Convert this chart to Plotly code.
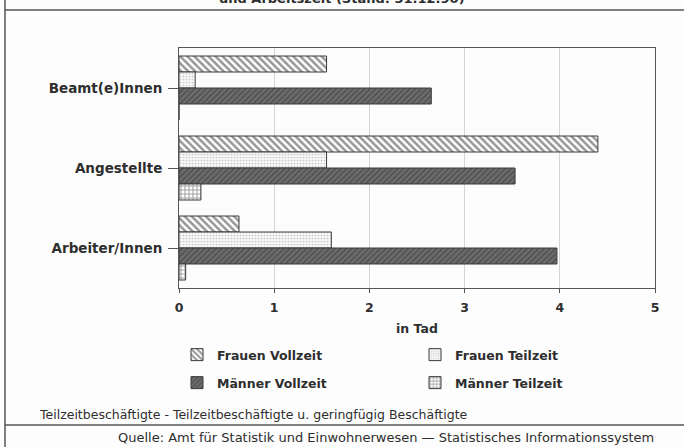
import plotly.graph_objects as go

# Employees by status, sex and working time (thousands)
categories = ["Beamt(e)Innen", "Angestellte", "Arbeiter/Innen"]
frauen_vollzeit = [1.55, 4.40, 0.63]
frauen_teilzeit = [0.17, 1.55, 1.60]
maenner_vollzeit = [2.65, 3.53, 3.97]
maenner_teilzeit = [0.0, 0.23, 0.07]
x_ticks = [0, 1, 2, 3, 4, 5]

W, H = 684, 447
L, R, T, B = 179, 655, 48, 288  # plot area in pixels
INK = "#2e2e2e"
FONT = "DejaVu Sans"


def px_x(p):
    return (p - L) / (R - L)


def px_y(p):
    return (B - p) / (B - T)


series = [
    ("Frauen Vollzeit", frauen_vollzeit,
     dict(shape="\\", fgcolor="#2e2e2e", bgcolor="#ffffff", size=5, solidity=0.5)),
    ("Frauen Teilzeit", frauen_teilzeit,
     dict(shape=".", fgcolor="#9a9a9a", bgcolor="#f6f6f6", size=3, solidity=0.25)),
    ("Männer Vollzeit", maenner_vollzeit,
     dict(shape="/", fgcolor="#333333", bgcolor="#6e6e6e", size=4, solidity=0.45)),
    ("Männer Teilzeit", maenner_teilzeit,
     dict(shape="+", fgcolor="#2e2e2e", bgcolor="#ffffff", size=4, solidity=0.4)),
]

fig = go.Figure()
for i, (name, vals, pat) in enumerate(series):
    fig.add_trace(go.Bar(
        name=name, x=vals, y=categories, orientation="h",
        marker=dict(color="#ffffff", pattern=pat,
                    line=dict(color="#3a3a3a", width=1)),
        legend="legend" if i < 2 else "legend2",
        hoverinfo="skip",
    ))

legend_common = dict(
    orientation="h", xref="paper", yref="paper", xanchor="left", yanchor="middle",
    entrywidth=193, entrywidthmode="pixels", bgcolor="rgba(0,0,0,0)",
    font=dict(family=FONT, size=12.5, color=INK, weight="bold"),
    itemclick=False, itemdoubleclick=False,
)

fig.update_layout(
    width=W, height=H,
    margin=dict(l=L, r=W - R, t=T, b=H - B, pad=0),
    paper_bgcolor="#fdfdfd", plot_bgcolor="#fdfdfd",
    barmode="group", bargap=0.2, bargroupgap=0,
    showlegend=True,
    legend=dict(x=px_x(177), y=px_y(355), **legend_common),
    legend2=dict(x=px_x(177), y=px_y(383), **legend_common),
    xaxis=dict(
        range=[0, 5], tickvals=x_ticks, ticktext=[str(t) for t in x_ticks],
        showgrid=True, gridcolor="#d4d4d4", gridwidth=1,
        showline=True, linecolor="#555555", linewidth=1, mirror=True,
        ticks="outside", ticklen=4, tickcolor="#555555",
        tickfont=dict(family=FONT, size=12.5, color=INK, weight="bold"),
        ticklabelstandoff=4,
        title=dict(text="in Tad", standoff=10,
                   font=dict(family=FONT, size=12.5, color=INK, weight="bold")),
        zeroline=False, fixedrange=True,
    ),
    yaxis=dict(
        type="category", categoryorder="array", categoryarray=categories,
        range=[2.5, -0.5],
        showgrid=False, showline=True, linecolor="#555555", linewidth=1, mirror=True,
        ticks="outside", ticklen=10, tickcolor="#555555",
        tickfont=dict(family=FONT, size=13.5, color=INK, weight="bold"),
        ticklabelstandoff=3, fixedrange=True,
    ),
)

# Page frame around the figure block
frame = dict(color="#555555", width=1.5)
fig.add_shape(type="line", xref="paper", yref="paper",
              x0=px_x(5), x1=px_x(W), y0=px_y(10), y1=px_y(10), line=frame)
fig.add_shape(type="line", xref="paper", yref="paper",
              x0=px_x(5), x1=px_x(W), y0=px_y(425), y1=px_y(425), line=frame)
fig.add_shape(type="line", xref="paper", yref="paper",
              x0=px_x(5), x1=px_x(5), y0=px_y(0), y1=px_y(H), line=frame)

# Heading line (runs over the top edge) and notes below the chart
fig.add_annotation(text="und Arbeitszeit (Stand: 31.12.90)", xref="paper", yref="paper",
                   x=px_x(342), y=px_y(-2), xanchor="center", yanchor="middle",
                   showarrow=False, font=dict(family=FONT, size=13, color=INK, weight="bold"))
fig.add_annotation(text="Teilzeitbeschäftigte - Teilzeitbeschäftigte u. geringfügig Beschäftigte",
                   xref="paper", yref="paper", x=px_x(37), y=px_y(414),
                   xanchor="left", yanchor="middle", showarrow=False,
                   font=dict(family=FONT, size=12.5, color=INK))
fig.add_annotation(text="Quelle: Amt für Statistik und Einwohnerwesen — Statistisches Informationssystem",
                   xref="paper", yref="paper", x=px_x(386), y=px_y(437),
                   xanchor="center", yanchor="middle", showarrow=False,
                   font=dict(family=FONT, size=13, color=INK))

fig.write_html("out.html")
